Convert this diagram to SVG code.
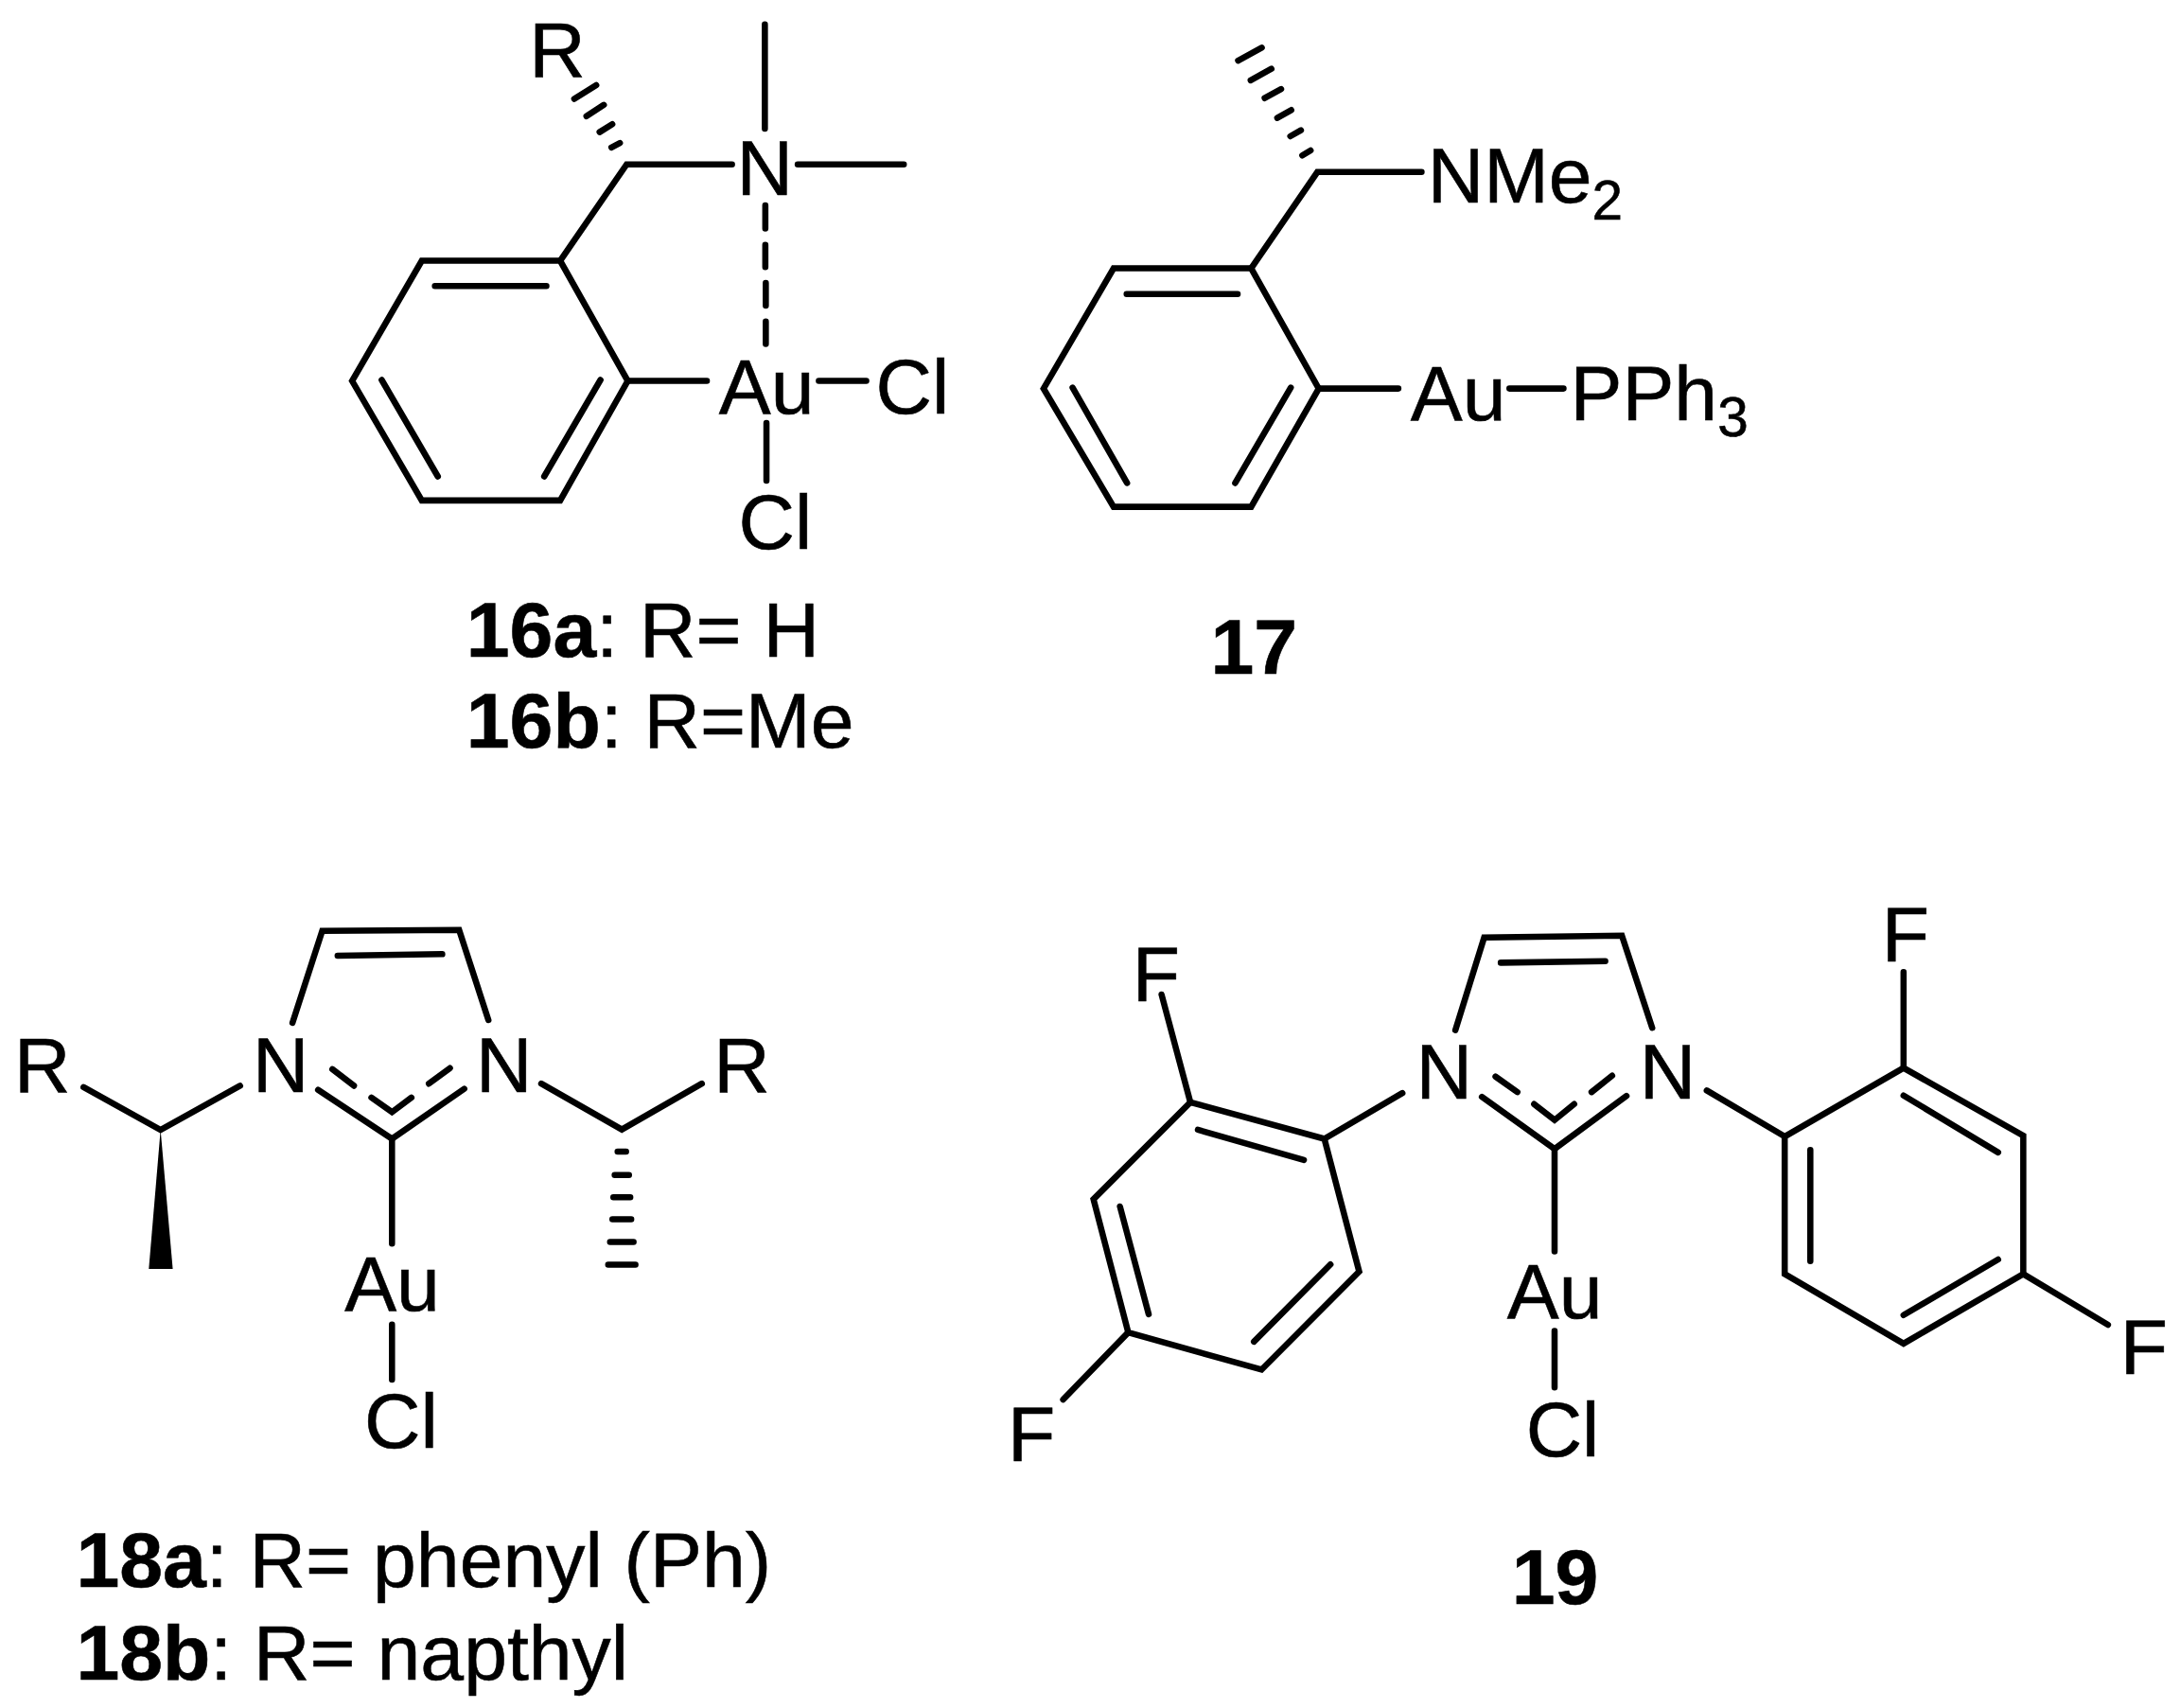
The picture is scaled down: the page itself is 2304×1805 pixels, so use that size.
<svg xmlns="http://www.w3.org/2000/svg" width="2304" height="1805" viewBox="0 0 2304 1805">
<style>
text{font-family:"Liberation Sans",Arial,sans-serif;font-size:83px;fill:#000;stroke:#000;stroke-width:.6}
.b{font-weight:700}
.s{font-size:59px}
#connectors path{fill:none;stroke:#000;stroke-width:6.600;stroke-linecap:round;stroke-linejoin:miter}
#connectors polygon{fill:#000}
</style>
<rect width="2304" height="1805" fill="#fff"/>
<g id="connectors">
<g id="bonds-16" transform="matrix(.9923 0 0 .9923 2.618 0)">
<path d="M446.600 277.700H594L666 405.700L594 533H446.600L372.400 405.700Z"/>
<path d="M460.600 304.500H579.300M403.900 404.600L463.700 507.400M636.900 404.600L577 507.400"/>
<path d="M594 277.700L664.800 175H777M812 26V137M847 175H960"/>
<path d="M812.500 218.600V243.400M812.500 260.800V284.500M813 301.400V325.600M813 342.500V366.200"/>
<path d="M666 405.700H750.200M869.500 405.700H920M813.700 450.500V512"/>
<path d="M609 105.400L632.400 90.600M622 123.800L640.500 111.700M636 140.700L649.500 132.200M648.600 157L657.600 152.300"/>
</g>
<g id="bonds-17" transform="matrix(.9923 0 0 .9923 8.316 0)">
<path d="M1177.700 285.800H1324.200L1396.200 413.800L1324.200 539.800H1177.700L1103.100 413.800Z"/>
<path d="M1191.600 313.100H1309.800M1134 412.800L1192 514.400M1366.400 412.800L1307.200 514.400"/>
<path d="M1324.200 285.800L1394.700 183.200H1505.700M1396.200 413.800H1481M1599.300 413.800H1656.900"/>
<path d="M1310.300 64.500L1335.500 50.800M1323.700 85.500L1345.800 73.300M1338.600 104.500L1356.100 94.800M1352 125.500L1366.900 117.200M1365.900 145.100L1377.200 138.700M1378.700 165.600L1387.500 160.200"/>
</g>
<g id="bonds-18" transform="matrix(.9923 0 0 .9923 0 7.315)">
<path d="M311.500 1081.900L343.200 984L489 983L520.200 1079M359.600 1010.400L471 1008.800"/>
<path d="M338.800 1153.300L417.500 1205.500L494.500 1152.200M354 1131.300L377 1149M395.600 1161.500L417.500 1177L438.200 1161.500M456.800 1146.700L479.200 1130.200"/>
<path d="M417.500 1205.500V1317M417.500 1403.300V1462"/>
<path d="M89 1150.500L171 1196L255.700 1149M576.500 1146.700L662.300 1195.600L747.500 1146.700"/>
<polygon points="171,1196 158.500,1344 184,1344"/>
<path d="M657.800 1219H666.800M654.700 1244H669.900M653.300 1267.600H671.300M652.300 1291.200H672.300M649.800 1315.400H674.800M647.800 1339.600H676.800"/>
</g>
<g id="bonds-19" transform="matrix(.9923 0 0 .9923 8.085 7.315)">
<path d="M1541.900 1089.800L1572.600 991L1719.300 989L1751.600 1087.300M1590.300 1017.900L1701.600 1016.300"/>
<path d="M1570.200 1160.800L1647.600 1216.300L1724.200 1159.800M1584.700 1139.200L1608 1155.700M1625.800 1168.500L1647.600 1185.500L1668.500 1168.500M1687 1155.700L1708.900 1138.200"/>
<path d="M1647.600 1216.300V1325.300M1647.600 1410V1470.300"/>
<path d="M1402.400 1205.500L1259.700 1166.500L1156.500 1269.800L1193.500 1411.700L1335.500 1451.300L1439.500 1346.900Z"/>
<path d="M1267.700 1195.800L1380.600 1228.100M1184.700 1277.500L1215.300 1392.200M1327.400 1421.500L1408.900 1339.200"/>
<path d="M1402.400 1205.500L1485.500 1156.700M1259.700 1166.500L1229 1051.800M1193.500 1411.700L1124.200 1483.200"/>
<path d="M1892.700 1203L2019.300 1130L2146.800 1202V1349.500L2019.300 1423.500L1892.700 1349.500Z"/>
<path d="M1920 1217.400V1335.600M2019.300 1159.300L2120 1220M2019.300 1393.200L2120 1334"/>
<path d="M1809.700 1154L1892.700 1203M2019.300 1028V1130M2146.800 1349.500L2237 1403.500"/>
</g>
</g>
<g id="compound-16" transform="matrix(.9923 0 0 .9923 2.618 0)">
<text x="561" y="82">R</text>
<text x="782" y="208">N</text>
<text x="763" y="440">Au</text>
<text x="930" y="440">Cl</text>
<text x="784" y="585">Cl</text>
<text x="494" y="699"><tspan class="b">16a</tspan>: R= H</text>
<text x="494" y="796"><tspan class="b">16b</tspan>: R=Me</text>
</g>
<g id="compound-17" transform="matrix(.9923 0 0 .9923 8.316 0)">
<text x="1512" y="216">NMe<tspan class="s" dy="18">2</tspan></text>
<text x="1494" y="447">Au</text>
<text x="1664" y="447">PPh<tspan class="s" dy="18">3</tspan></text>
<text x="1281" y="718" class="b">17</text>
</g>
<g id="compound-18" transform="matrix(.9923 0 0 .9923 0 7.315)">
<text x="15" y="1156">R</text>
<text x="269" y="1156">N</text>
<text x="507" y="1156">N</text>
<text x="760" y="1156">R</text>
<text x="367" y="1388">Au</text>
<text x="388" y="1535">Cl</text>
<text x="81" y="1683"><tspan class="b">18a</tspan>: R= phenyl (Ph)</text>
<text x="81" y="1781"><tspan class="b">18b</tspan>: R= napthyl</text>
</g>
<g id="compound-19" transform="matrix(.9923 0 0 .9923 8.085 7.315)">
<text x="1198" y="1059">F</text>
<text x="1065" y="1549">F</text>
<text x="1500" y="1163">N</text>
<text x="1738" y="1163">N</text>
<text x="1996" y="1017">F</text>
<text x="2250" y="1456">F</text>
<text x="1597" y="1396">Au</text>
<text x="1617" y="1544">Cl</text>
<text x="1602" y="1701" class="b">19</text>
</g>
</svg>
